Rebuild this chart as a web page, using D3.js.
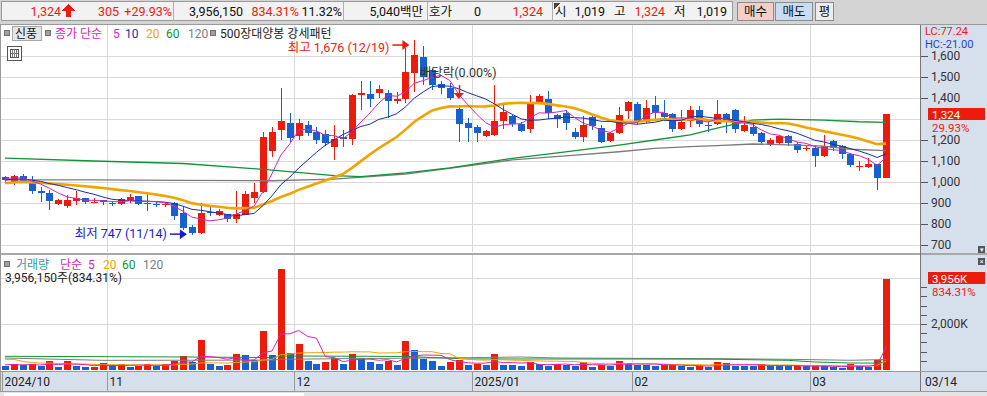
<!DOCTYPE html>
<html>
<head>
<meta charset="utf-8">
<title>신풍 일봉</title>
<script src="https://cdn.jsdelivr.net/npm/d3@7"></script>
<style>
  body { margin: 0; background: #d4d4d4; }
  svg { display: block; font-family: Roboto, "Noto Sans CJK KR", sans-serif; font-size: 12px; }
  .grid line { stroke: #d9d9d9; shape-rendering: crispEdges; }
  .axis path { display: none; }
  .axis line { stroke: #555; shape-rendering: crispEdges; }
  .axis text { fill: #333; font-size: 12px; font-family: Roboto, sans-serif; }
  .crisp { shape-rendering: crispEdges; }
</style>
</head>
<body>
<svg id="chart" width="987" height="396"></svg>
<script>
// trading days shown (year, month, days)
var tradingDays = [
  ["2024", "10", [16,17,18,21,22,23,24,25,28,29,30,31]],
  ["2024", "11", [1,4,5,6,7,8,11,12,13,14,15,18,19,20,21,22,25,26,27,28,29]],
  ["2024", "12", [2,3,4,5,6,9,10,11,12,13,16,17,18,19,20,23,24,26,27,30]],
  ["2025", "01", [2,3,6,7,8,9,10,13,14,15,16,17,20,21,22,23,24,31]],
  ["2025", "02", [3,4,5,6,7,10,11,12,13,14,17,18,19,20,21,24,25,26,27,28]],
  ["2025", "03", [4,5,6,7,10,11,12,13,14]]
];

var open = [1024,994,1030,1002,957,948,894,887,910,922, 905,914,902,895,914,933,900,895,893,902,
  851,787,756,855,843,848,824,843,922,952, 1150,1250,1280,1220,1270,1240,1230,1168,1212,1203,
  1413,1419,1422,1425,1386,1395,1518,1597,1533,1467, 1446,1348,1283,1260,1220,1224,1292,1314,1276,1252,
  1378,1394,1319,1327,1240,1216,1308,1256,1197,1232, 1340,1371,1287,1367,1329,1324,1254,1292,1343,1273,
  1276,1324,1343,1244,1260,1235,1176,1187,1221,1181, 1157,1160,1124,1195,1171,1133,1074,1071,1086,1019];
var high = [1030,1033,1038,1030,978,962,920,938,959,924, 924,916,910,925,943,935,952,905,905,905,
  883,795,902,885,870,850,957,955,995,1240, 1262,1450,1330,1300,1290,1260,1250,1271,1248,1420,
  1482,1482,1460,1440,1430,1636,1676,1648,1540,1480, 1470,1367,1305,1270,1250,1462,1376,1320,1285,1414,
  1420,1435,1325,1345,1257,1314,1320,1270,1240,1359, 1387,1380,1390,1410,1390,1330,1343,1362,1362,1295,
  1390,1330,1350,1314,1280,1238,1210,1224,1224,1190, 1176,1176,1224,1200,1176,1140,1101,1114,1086,1324];
var low = [1000,986,1000,943,906,867,890,876,890,894, 898,892,886,890,900,890,863,880,880,819,
  771,747,752,840,836,811,805,843,900,948, 1120,1200,1190,1200,1220,1180,1170,1105,1168,1176,
  1343,1359,1400,1305,1370,1376,1430,1462,1438,1420, 1390,1192,1192,1192,1212,1219,1252,1260,1238,1233,
  1370,1299,1257,1250,1205,1192,1250,1188,1190,1229, 1299,1275,1280,1299,1295,1240,1248,1264,1264,1240,
  1271,1235,1235,1240,1220,1180,1170,1183,1170,1140, 1148,1070,1121,1150,1110,1070,1054,1066,962,1019];
var close = [1010,1030,1006,959,946,911,914,914,924,903, 907,903,898,917,928,894,899,893,895,840,
  779,756,851,851,862,822,848,943,954,1214, 1240,1290,1210,1280,1235,1200,1185,1203,1205,1414,
  1422,1397,1441,1387,1395,1525,1605,1502,1462,1446, 1399,1276,1259,1235,1243,1292,1335,1275,1243,1383,
  1410,1330,1299,1280,1216,1271,1267,1192,1235,1319, 1383,1284,1351,1327,1311,1252,1286,1343,1276,1271,
  1324,1292,1252,1271,1229,1192,1200,1221,1187,1152, 1160,1124,1171,1163,1132,1081,1078,1086,1019,1324];
// volume, thousand shares
var volume = [174,274,204,261,187,378,130,391,174,109, 122,304,204,248,130,187,274,174,261,391,
  596,348,1318,274,174,230,709,665,422,1697, 639,4380,740,1144,391,274,361,522,274,709,
  492,361,274,405,230,1262,870,492,378,174, 348,448,218,274,210,696,218,204,174,348,
  261,187,261,230,187,348,130,230,174,391, 304,230,215,174,230,250,170,130,170,130,
  348,304,187,174,161,261,187,174,161,174, 161,187,161,130,87,274,161,150,424,3956];

// closes / volumes of the sessions just before the window (for the short averages)
var priorClose = [975,968,985,990,978,972,980,988,982,982,995,1000,1012,1005,1014,1000,1020,1024,1020];
var priorVolume = [380,1900,1240,640,520,410,520,380,300,450,350,280,300,260,220,260,230,250,236];

// long averages
var ma60Price = [["2024/10/16",1114],["2024/10/30",1100],["2024/11/13",1088],["2024/11/27",1057],
  ["2024/12/06",1030],["2024/12/11",1026],["2024/12/18",1043],["2024/12/26",1067],["2025/01/08",1113],
  ["2025/01/16",1143],["2025/01/24",1176],["2025/02/05",1200],["2025/02/11",1224],["2025/02/14",1256],
  ["2025/02/20",1295],["2025/02/25",1299],["2025/03/05",1295],["2025/03/11",1287],["2025/03/14",1284]];
var ma120Price = [["2024/10/16",1010],["2024/10/30",1010],["2024/11/13",1008],["2024/11/27",1006],
  ["2024/12/06",1014],["2024/12/18",1038],["2025/01/08",1105],["2025/01/16",1124],["2025/01/24",1144],
  ["2025/02/05",1160],["2025/02/11",1168],["2025/02/14",1173],["2025/02/20",1181],["2025/02/27",1176],
  ["2025/03/05",1171],["2025/03/10",1156],["2025/03/14",1149]];
var ma60Volume = [["2024/10/16",596],["2024/10/30",580],["2024/11/13",566],["2024/11/27",540],
  ["2024/11/28",610],["2024/12/18",590],["2024/12/30",480],["2025/01/31",478],["2025/02/14",470],
  ["2025/02/26",420],["2025/03/04",348],["2025/03/10",304],["2025/03/13",300],["2025/03/14",360]];
var ma120Volume = [["2024/10/16",522],["2024/10/31",420],["2024/11/27",430],["2024/11/28",466],
  ["2024/12/11",500],["2024/12/30",535],["2025/01/09",566],["2025/01/15",522],["2025/02/14",492],
  ["2025/02/26",465],["2025/03/10",422],["2025/03/14",455]];

var priceTicks = [700,800,900,1000,1100,1200,1300,1400,1500,1600];

var RED = "#ec1c0c", BLUE = "#1660d0";
var C5 = "#d824b8", C10 = "#1a2ea0", C20 = "#f0a400", C60 = "#119436", C120 = "#7c7c7c";

var dates = [];
tradingDays.forEach(function(m) {
  m[2].forEach(function(d) { dates.push(m[0] + "/" + m[1] + "/" + (d < 10 ? "0" + d : d)); });
});
var bars = dates.map(function(d, i) {
  return {date: d, o: open[i], h: high[i], l: low[i], c: close[i], v: volume[i]};
});

var svg = d3.select("#chart");
var W = 987, plotR = 920;
var pTop = 25, pBot = 252, vTop = 254, vBot = 370;

var x = d3.scaleBand().domain(dates).range([0.5, 0.5 + 8.9 * dates.length]);
function xc(d) { return x(d) + x.step() / 2; }
var y = d3.scaleLinear().domain([700, 1600]).range([245, 56]);
var yv = d3.scaleLinear().domain([0, 4000]).range([vBot, 278]);

function movingAvg(values, prior, n) {
  var all = prior.concat(values);
  return values.map(function(v, i) {
    var end = prior.length + i + 1;
    return d3.mean(all.slice(end - n, end));
  });
}

// ---------- top bar ----------
var hdr = svg.append("g").attr("class", "crisp");
hdr.append("rect").attr("x", 0).attr("y", 0).attr("width", W).attr("height", 24).attr("fill", "#d4d4d4");
hdr.append("rect").attr("x", 1.5).attr("y", 1.5).attr("width", 731).attr("height", 19)
  .attr("fill", "#f2f2f2").attr("stroke", "#9a9a9a");
[173, 343, 427, 552].forEach(function(xx) {
  hdr.append("line").attr("x1", xx + .5).attr("x2", xx + .5).attr("y1", 2).attr("y2", 21).attr("stroke", "#b0b0b0");
});
hdr.append("path").attr("d", "M554,3 L561,3 L554,9 Z").attr("fill", "#444");
var tt = [
  ["1,324", 61, "end", RED], ["305", 119, "end", RED], ["+29.93%", 172, "end", RED],
  ["3,956,150", 243, "end", "#111"], ["834.31%", 299, "end", RED], ["11.32%", 342, "end", "#111"],
  ["5,040백만", 423, "end", "#111"], ["호가", 429, "start", "#111"], ["0", 481, "end", "#111"],
  ["1,324", 543, "end", RED], ["시", 555, "start", "#111"], ["1,019", 605, "end", "#111"],
  ["고", 614, "start", "#111"], ["1,324", 665, "end", RED], ["저", 674, "start", "#111"],
  ["1,019", 727, "end", "#111"]
];
tt.forEach(function(t) {
  hdr.append("text").attr("x", t[1]).attr("y", 16).attr("text-anchor", t[2])
    .attr("fill", t[3]).style("font-size", "12.5px").text(t[0]);
});
hdr.append("path").attr("d", "M68.5,4 L75,11 L71,11 L71,17 L66,17 L66,11 L62,11 Z").attr("fill", RED);
[["매수", 737, 36, "#f4cec8"], ["매도", 775, 37, "#c9dcf1"], ["평", 815, 18, "#ececec"]].forEach(function(b) {
  hdr.append("rect").attr("x", b[1] + .5).attr("y", 2.5).attr("width", b[2]).attr("height", 18)
    .attr("fill", b[3]).attr("stroke", "#8c8c8c");
  hdr.append("text").attr("x", b[1] + b[2] / 2 + .5).attr("y", 16).attr("text-anchor", "middle")
    .attr("fill", "#111").style("font-size", "12.5px").text(b[0]);
});

// ---------- panels ----------
svg.append("rect").attr("x", 0).attr("y", pTop).attr("width", plotR).attr("height", vBot - pTop + 1).attr("fill", "#fff");
svg.append("rect").attr("x", plotR).attr("y", pTop).attr("width", W - plotR).attr("height", vBot - pTop + 1).attr("fill", "#d6e0ec");
svg.append("rect").attr("x", 0).attr("y", 371).attr("width", W).attr("height", 21).attr("fill", "#d6e0ec");
svg.append("rect").attr("x", 0).attr("y", 392).attr("width", W).attr("height", 4).attr("fill", "#e4e4e4");
svg.append("rect").attr("x", 4).attr("y", 393).attr("width", 300).attr("height", 3).attr("fill", "#fff");

var grid = svg.append("g").attr("class", "grid");
grid.selectAll(".hp").data(priceTicks).enter().append("line")
  .attr("x1", 0).attr("x2", plotR).attr("y1", function(d) { return Math.round(y(d)) + .5; })
  .attr("y2", function(d) { return Math.round(y(d)) + .5; });
grid.selectAll(".hv").data([2000, 4000]).enter().append("line")
  .attr("x1", 0).attr("x2", plotR).attr("y1", function(d) { return Math.round(yv(d)) + .5; })
  .attr("y2", function(d) { return Math.round(yv(d)) + .5; });

// month boundaries
var monthStarts = [];
dates.forEach(function(d, i) {
  if (i > 0 && d.slice(5, 7) !== dates[i - 1].slice(5, 7)) monthStarts.push(d);
});
monthStarts.forEach(function(d) {
  var xx = Math.round(x(d)) + .5;
  grid.append("line").attr("x1", xx).attr("x2", xx).attr("y1", pTop).attr("y2", pBot);
  grid.append("line").attr("x1", xx).attr("x2", xx).attr("y1", vTop).attr("y2", vBot);
});

// panel frame lines
var frame = svg.append("g").attr("class", "crisp");
frame.append("line").attr("x1", 0).attr("x2", W).attr("y1", pTop - .5).attr("y2", pTop - .5).attr("stroke", "#9a9a9a");
frame.append("rect").attr("x", 0).attr("y", pBot + .5).attr("width", W).attr("height", 2).attr("fill", "#a8a8a8");
frame.append("line").attr("x1", plotR + .5).attr("x2", plotR + .5).attr("y1", pTop).attr("y2", 392).attr("stroke", "#777");
frame.append("line").attr("x1", 0).attr("x2", W).attr("y1", 371.5).attr("y2", 371.5).attr("stroke", "#9a9a9a");
frame.append("line").attr("x1", 0).attr("x2", W).attr("y1", 391.5).attr("y2", 391.5).attr("stroke", "#9a9a9a");
frame.append("line").attr("x1", .5).attr("x2", .5).attr("y1", pTop).attr("y2", 392).attr("stroke", "#9a9a9a");

// ---------- candles ----------
function isUp(b, i) {
  if (b.c !== b.o) return b.c > b.o;
  return i === 0 ? true : b.c >= bars[i - 1].c;
}
var cg = svg.append("g").attr("class", "crisp");
var candle = cg.selectAll(".candle").data(bars).enter().append("g");
candle.append("line")
  .attr("x1", function(d) { return Math.round(xc(d.date)) + .5; })
  .attr("x2", function(d) { return Math.round(xc(d.date)) + .5; })
  .attr("y1", function(d) { return y(d.h); }).attr("y2", function(d) { return y(d.l); })
  .attr("stroke", function(d, i) { return isUp(d, i) ? RED : BLUE; });
candle.append("rect")
  .attr("x", function(d) { return Math.round(xc(d.date)) - 3; })
  .attr("width", 7)
  .attr("y", function(d) { return y(Math.max(d.o, d.c)); })
  .attr("height", function(d) { return Math.max(1, Math.abs(y(d.o) - y(d.c))); })
  .attr("fill", function(d, i) { return isUp(d, i) ? RED : BLUE; });

// ---------- price averages ----------
function drawLine(g, pts, yScale, color, w) {
  g.append("path").datum(pts).attr("fill", "none").attr("stroke", color).attr("stroke-width", w)
    .attr("d", d3.line().x(function(p) { return xc(p[0]); }).y(function(p) { return yScale(p[1]); }));
}
var mg = svg.append("g");
drawLine(mg, ma120Price, y, C120, 1.3);
drawLine(mg, ma60Price, y, C60, 1.3);
[[20, C20, 2.6], [10, C10, 1], [5, C5, 1]].forEach(function(m) {
  var vals = movingAvg(close, priorClose, m[0]);
  drawLine(mg, dates.map(function(d, i) { return [d, vals[i]]; }), y, m[1], m[2]);
});

// ---------- volume ----------
var vg = svg.append("g").attr("class", "crisp");
vg.selectAll("rect").data(bars).enter().append("rect")
  .attr("x", function(d) { return Math.round(xc(d.date)) - 3; })
  .attr("width", 7)
  .attr("y", function(d) { return yv(d.v); })
  .attr("height", function(d) { return vBot - yv(d.v); })
  .attr("fill", function(d, i) {
    var prev = i === 0 ? priorVolume[priorVolume.length - 1] : volume[i - 1];
    return d.v >= prev ? RED : BLUE;
  });
var vmg = svg.append("g");
drawLine(vmg, ma120Volume, yv, C120, 1);
drawLine(vmg, ma60Volume, yv, C60, 1);
[[20, C20], [5, C5]].forEach(function(m) {
  var vals = movingAvg(volume, priorVolume, m[0]);
  drawLine(vmg, dates.map(function(d, i) { return [d, vals[i]]; }), yv, m[1], 1);
});

// ---------- axes ----------
var last = bars[bars.length - 1];
svg.append("g").attr("class", "axis").attr("transform", "translate(" + (plotR + 1) + ",0)")
  .call(d3.axisRight(y).tickValues(priceTicks.filter(function(v) { return Math.abs(y(v) - y(last.c)) > 10; }))
    .tickSize(7).tickPadding(3).tickFormat(d3.format(",")));
svg.append("g").attr("class", "axis").attr("transform", "translate(" + (plotR + 1) + ",0)")
  .call(d3.axisRight(yv).tickValues(d3.range(400, 4000, 400)).tickSize(6)
    .tickFormat(function(v) { return v === 2000 ? d3.format(",")(v) + "K" : ""; }).tickPadding(4));

// last value tags
var ax = svg.append("g").style("font-size", "11.5px");
ax.append("rect").attr("x", 928).attr("y", Math.round(y(last.c)) - 6).attr("width", 57).attr("height", 12).attr("fill", RED);
ax.append("text").attr("x", 932).attr("y", y(last.c) + 5).attr("fill", "#fff").text(d3.format(",")(last.c));
ax.append("text").attr("x", 932).attr("y", y(last.c) + 18).attr("fill", RED).text("29.93%");
ax.append("rect").attr("x", 928).attr("y", Math.round(yv(last.v)) - 7).attr("width", 57).attr("height", 12).attr("fill", RED);
ax.append("text").attr("x", 932).attr("y", yv(last.v) + 3.5).attr("fill", "#fff").text(d3.format(",")(last.v) + "K");
ax.append("text").attr("x", 932).attr("y", yv(last.v) + 17).attr("fill", RED).text("834.31%");
ax.append("text").attr("x", 925).attr("y", 34.5).attr("fill", RED).style("font-size", "11px").text("LC:77.24");
ax.append("text").attr("x", 925).attr("y", 47.5).attr("fill", "#1a40d8").style("font-size", "11px").text("HC:-21.00");
[[978, 246], [978, 258]].forEach(function(p, k) {
  ax.append("rect").attr("x", p[0]).attr("y", p[1]).attr("width", 7).attr("height", 7).attr("fill", "#555");
  ax.append("text").attr("x", p[0] + 3.5).attr("y", p[1] + 6).attr("text-anchor", "middle")
    .attr("fill", "#fff").style("font-size", "7px").text(k ? "×" : "▾");
});

// date axis
var xa = svg.append("g");
var monthLabels = [[dates[0], dates[0].slice(0, 7)]].concat(monthStarts.map(function(d) {
  return [d, d.slice(5, 7) === "01" ? d.slice(0, 7) : d.slice(5, 7)];
}));
monthLabels.forEach(function(m, k) {
  var xx = k === 0 ? 2.5 : Math.round(x(m[0])) + .5;
  xa.append("line").attr("class", "crisp").attr("x1", xx).attr("x2", xx).attr("y1", 372).attr("y2", 391).attr("stroke", "#999");
  xa.append("text").attr("x", xx + 2).attr("y", 386).attr("fill", "#222").text(m[1]);
});
xa.append("text").attr("x", plotR + 5).attr("y", 386).attr("fill", "#222").text(last.date.slice(5));

// ---------- legends ----------
function marker(g, xx, yy) {
  g.append("rect").attr("class", "crisp").attr("x", xx + .5).attr("y", yy + .5).attr("width", 5).attr("height", 5)
    .attr("fill", "#a0a0a0").attr("stroke", "#707070");
}
var lg = svg.append("g");
marker(lg, 4, 30);
lg.append("rect").attr("class", "crisp").attr("x", 12.5).attr("y", 26.5).attr("width", 29).attr("height", 14)
  .attr("fill", "#e6e6e6").attr("stroke", "#a8a8a8");
lg.append("text").attr("x", 15).attr("y", 38).attr("fill", "#111").text("신풍");
marker(lg, 45, 30);
[["종가 단순", 55, C5], ["5", 113, C5], ["10", 125, C10], ["20", 146, C20], ["60", 166, C60], ["120", 188, C120]]
  .forEach(function(t) { lg.append("text").attr("x", t[1]).attr("y", 38).attr("fill", t[2]).text(t[0]); });
marker(lg, 210, 30);
lg.append("text").attr("x", 220).attr("y", 37.5).attr("fill", "#222").text("500장대양봉 강세패턴");
// table icon
var ic = lg.append("g").attr("class", "crisp");
ic.append("rect").attr("x", 7.5).attr("y", 46.5).attr("width", 14).attr("height", 14).attr("fill", "#fff").attr("stroke", "#555");
ic.append("rect").attr("x", 10.5).attr("y", 49.5).attr("width", 8).attr("height", 8).attr("fill", "none").attr("stroke", "#555");
[12.5, 14.5, 16.5].forEach(function(v) {
  ic.append("line").attr("x1", v).attr("x2", v).attr("y1", 50).attr("y2", 57).attr("stroke", "#777");
});
ic.append("line").attr("x1", 11).attr("x2", 18).attr("y1", 53.5).attr("y2", 53.5).attr("stroke", "#777");

marker(lg, 4, 261);
[["거래량", 16, "#2e9c9c"], ["단순", 60, C5], ["5", 88, C5], ["20", 103, C20], ["60", 122, C60], ["120", 143, C120]]
  .forEach(function(t) { lg.append("text").attr("x", t[1]).attr("y", 269).attr("fill", t[2]).text(t[0]); });
lg.append("text").attr("x", 5).attr("y", 282).attr("fill", "#222").text("3,956,150주(834.31%)");

// ---------- annotations ----------
var hiIdx = d3.maxIndex(high), loIdx = d3.minIndex(low);
var an = svg.append("g").style("font-size", "12.5px");
function arrow(g, x1, x2, yy, color) {
  g.append("line").attr("x1", x1).attr("x2", x2 - 5).attr("y1", yy).attr("y2", yy).attr("stroke", color).attr("stroke-width", 1.5);
  g.append("path").attr("d", "M" + x2 + "," + yy + " L" + (x2 - 7) + "," + (yy - 5) + " L" + (x2 - 7) + "," + (yy + 5) + " Z").attr("fill", color);
}
var hx = xc(dates[hiIdx]) - 5, hy = y(high[hiIdx]) + 5;
an.append("text").attr("x", hx - 20).attr("y", hy + 6.5).attr("text-anchor", "end").attr("fill", RED)
  .text("최고 " + d3.format(",")(high[hiIdx]) + " (" + dates[hiIdx].slice(5) + ")");
arrow(an, hx - 17, hx, hy, RED);
var lx = xc(dates[loIdx]) - 5, ly = y(low[loIdx]) - 1;
an.append("text").attr("x", lx - 20).attr("y", ly + 4).attr("text-anchor", "end").attr("fill", "#1a1adc")
  .text("최저 " + low[loIdx] + " (" + dates[loIdx].slice(5) + ")");
arrow(an, lx - 17, lx, ly, "#1a1adc");

// ex-dividend marker
var exDate = "2024/12/27";
var ex = xc(exDate), ey = y(high[dates.indexOf(exDate)]) - 8;
an.append("line").attr("x1", Math.round(ex) + .5).attr("x2", Math.round(ex) + .5).attr("y1", ey - 12).attr("y2", ey - 3)
  .attr("stroke", RED).attr("stroke-width", 1.5);
an.append("path").attr("d", "M" + (ex - 5) + "," + (ey - 4) + " L" + (ex + 5) + "," + (ey - 4) + " L" + ex + "," + (ey + 2) + " Z").attr("fill", RED);
an.append("text").attr("x", ex - 39).attr("y", 77).attr("fill", "#333").text("배당락(0.00%)");
</script>
</body>
</html>
